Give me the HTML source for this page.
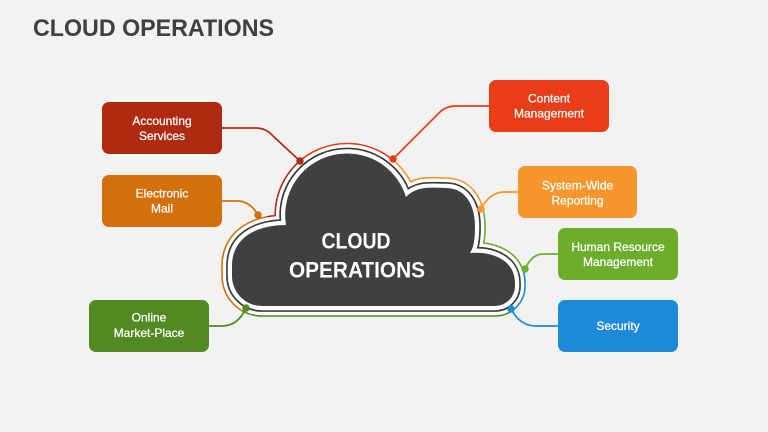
<!DOCTYPE html>
<html><head><meta charset="utf-8"><style>
html,body{margin:0;padding:0;background:#f2f2f2;}
svg{display:block;}
text{font-family:"Liberation Sans",sans-serif;}
</style></head><body>
<svg width="768" height="432" viewBox="0 0 768 432" xmlns="http://www.w3.org/2000/svg">
<defs>
<path id="cl" d="M262 306 A30 30 0 0 1 232 276 L232 266 C232 238 256 225 286 225 A61.5 61.5 0 0 1 347 153.5 A61.5 61.5 0 0 1 406 197 C418 185 432 188 446 188 C466 188 475 206 475 226 C475 238 474 247 470 253 C492 251 515 260 515 283 L515 286 A20 20 0 0 1 495 306 Z"/>
<clipPath id="wA"><polygon points="370,240 -190,115 20,-155"/></clipPath>
<clipPath id="wC"><polygon points="370,240 20,-155 485,-155"/></clipPath>
<clipPath id="wS"><polygon points="370,240 485,-155 925,85"/></clipPath>
<clipPath id="wH"><polygon points="370,240 925,85 1145,385"/></clipPath>
<clipPath id="wB"><polygon points="370,240 1145,385 1075,585"/></clipPath>
<clipPath id="wO"><polygon points="370,240 1075,585 -250,580"/></clipPath>
<clipPath id="wE"><polygon points="370,240 -250,580 -190,115"/></clipPath>
</defs>
<rect width="768" height="432" fill="#f2f2f2"/>
<text x="33" y="36" font-size="24" font-weight="bold" fill="#404040" textLength="241" lengthAdjust="spacingAndGlyphs">CLOUD OPERATIONS</text>

<!-- connectors -->
<g fill="none" stroke-width="1.7">
<path d="M222 128 H256 Q266 128 273 136 L300 161" stroke="#ae2b12"/>
<path d="M222 201 H237 Q250 201 258 215" stroke="#d4700c"/>
<path d="M393 159 L440 112 Q446 106 456 106 H489" stroke="#e83d16"/>
<path d="M518 192 H504 Q490 192 481 209" stroke="#f7962c"/>
<path d="M558 254 H543 Q532 254 525 269" stroke="#6cad2c"/>
<path d="M511 309 Q520 326 536 326 H558" stroke="#1c8ad6"/>
<path d="M209 326 H222 Q238 326 246 308" stroke="#508a20"/>
</g>

<!-- cloud outer colored ring -->
<g fill="none" stroke-width="21.6" stroke-linejoin="round">
<use href="#cl" stroke="#ae2b12" clip-path="url(#wA)"/>
<use href="#cl" stroke="#e83d16" clip-path="url(#wC)"/>
<use href="#cl" stroke="#f7962c" clip-path="url(#wS)"/>
<use href="#cl" stroke="#6cad2c" clip-path="url(#wH)"/>
<use href="#cl" stroke="#1c8ad6" clip-path="url(#wB)"/>
<use href="#cl" stroke="#508a20" clip-path="url(#wO)"/>
<use href="#cl" stroke="#d4700c" clip-path="url(#wE)"/>
</g>
<use href="#cl" fill="#ffffff" stroke="#ffffff" stroke-width="18.4" stroke-linejoin="round"/>
<use href="#cl" fill="#404040" stroke="#3c3c3c" stroke-width="11.8" stroke-linejoin="round"/>
<use href="#cl" fill="#ffffff" stroke="#ffffff" stroke-width="8.4" stroke-linejoin="round"/>
<use href="#cl" fill="#404040"/>

<text x="356" y="248.3" font-size="22" font-weight="bold" fill="#ffffff" text-anchor="middle" textLength="69" lengthAdjust="spacingAndGlyphs">CLOUD</text>
<text x="357" y="277.3" font-size="22" font-weight="bold" fill="#ffffff" text-anchor="middle" textLength="136" lengthAdjust="spacingAndGlyphs">OPERATIONS</text>

<!-- dots -->
<circle cx="300" cy="161" r="3.7" fill="#ae2b12"/>
<circle cx="258" cy="215" r="3.7" fill="#d4700c"/>
<circle cx="393" cy="159" r="3.7" fill="#e83d16"/>
<circle cx="481" cy="209" r="3.7" fill="#f7962c"/>
<circle cx="525" cy="269" r="3.7" fill="#6cad2c"/>
<circle cx="511" cy="309" r="3.7" fill="#1c8ad6"/>
<circle cx="246" cy="308" r="3.7" fill="#508a20"/>

<!-- boxes -->
<rect x="102" y="102" width="120" height="52" rx="7" fill="#ae2b12"/>
<rect x="102" y="175" width="120" height="52" rx="7" fill="#d4700c"/>
<rect x="489" y="80" width="120" height="52" rx="7" fill="#e83d16"/>
<rect x="518" y="166" width="119" height="52" rx="7" fill="#f7962c"/>
<rect x="558" y="228" width="120" height="52" rx="7" fill="#6cad2c"/>
<rect x="558" y="300" width="120" height="52" rx="7" fill="#1c8ad6"/>
<rect x="89" y="300" width="120" height="52" rx="7" fill="#508a20"/>

<g font-size="12" fill="#ffffff" stroke="#ffffff" stroke-width="0.25" text-anchor="middle">
<text x="162" y="125">Accounting</text>
<text x="162" y="140">Services</text>
<text x="162" y="197.5">Electronic</text>
<text x="162" y="212.5">Mail</text>
<text x="549" y="102.5">Content</text>
<text x="549" y="117.5">Management</text>
<text x="577.5" y="189.5">System-Wide</text>
<text x="577.5" y="204.5">Reporting</text>
<text x="618" y="251">Human Resource</text>
<text x="618" y="266">Management</text>
<text x="618" y="330">Security</text>
<text x="149" y="321.5">Online</text>
<text x="149" y="337">Market-Place</text>
</g>
</svg>
</body></html>
